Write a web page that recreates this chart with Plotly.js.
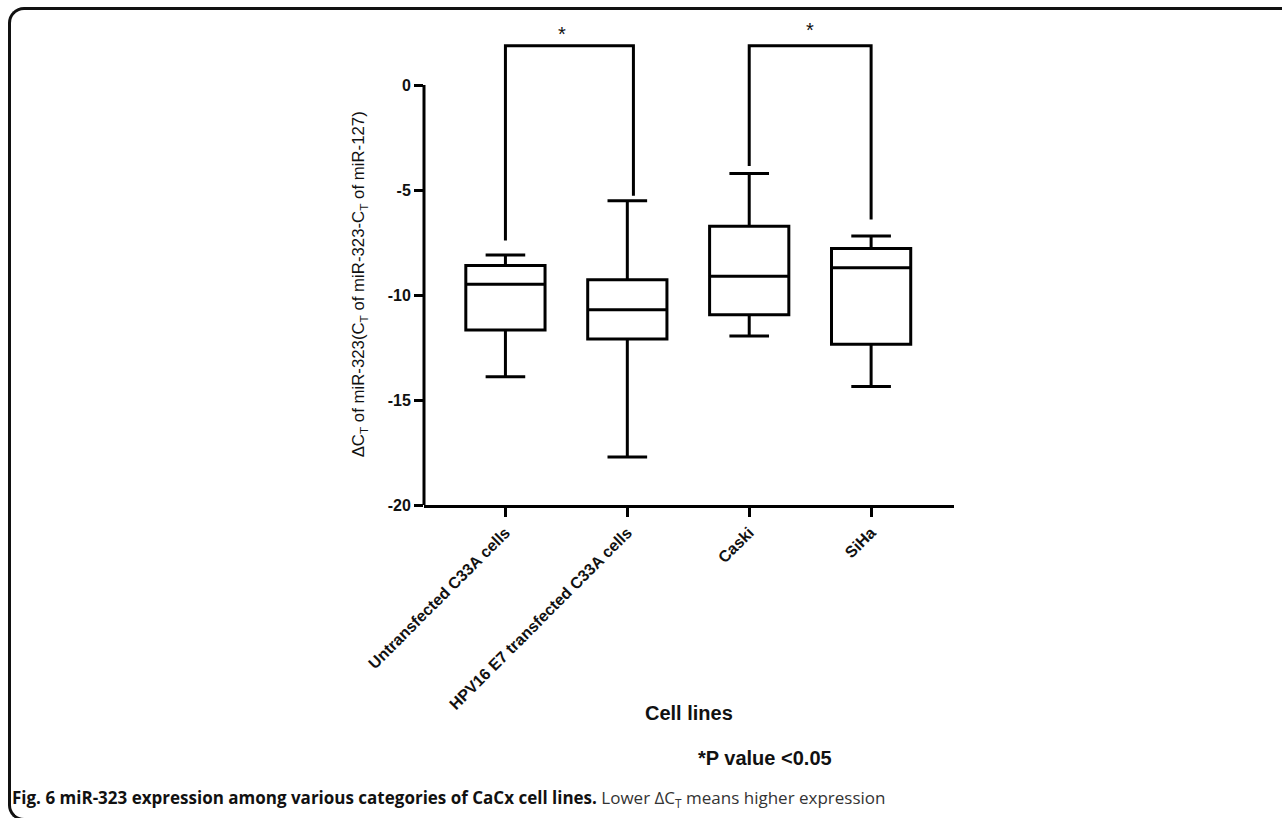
<!DOCTYPE html>
<html>
<head>
<meta charset="utf-8">
<script src="https://cdn.plot.ly/plotly-3.0.1.min.js"></script>
<style>
  html, body { margin: 0; padding: 0; background: #ffffff; overflow: hidden; }
  #chart { position: absolute; left: 0; top: 0; width: 1282px; height: 818px; }
  #frame { position: absolute; left: 8px; top: 7px; width: 1400px; height: 808px;
           border-left: 3px solid #111; border-top: 3px solid #111; border-bottom: 3px solid #111;
           border-top-left-radius: 16px; border-bottom-left-radius: 16px; pointer-events: none; }
</style>
</head>
<body>
<div id="chart"></div>
<div id="frame"></div>
<script>
// ---- data ----
var categories = ['Untransfected C33A cells', 'HPV16 E7 transfected C33A cells', 'Caski', 'SiHa'];
var positions = [0, 1, 2, 3];
var lowerWhisker = [-13.89, -17.71, -11.95, -14.36];
var q1Values = [-11.67, -12.10, -10.94, -12.35];
var medianValues = [-9.49, -10.70, -9.11, -8.70];
var q3Values = [-8.59, -9.27, -6.73, -7.79];
var upperWhisker = [-8.10, -5.51, -4.21, -7.19];
var yTickValues = [-20, -15, -10, -5, 0];
var yTickLabels = ['-20', '-15', '-10', '-5', '0'];
// significance brackets
var bracketLeftX = [0, 2];
var bracketRightX = [1.05, 3];
var bracketLeftBottom = [-7.41, -3.86];
var bracketRightBottom = [-5.27, -6.40];
var bracketTop = [1.87, 1.87];
var starX = [0.46, 2.50];
var starY = [2.42, 2.62];

var trace = {
  type: 'box',
  x: positions,
  q1: q1Values,
  median: medianValues,
  q3: q3Values,
  lowerfence: lowerWhisker,
  upperfence: upperWhisker,
  boxpoints: false,
  width: 0.65,
  whiskerwidth: 0.5,
  fillcolor: '#ffffff',
  line: { color: '#000000', width: 3 },
  hoverinfo: 'skip'
};

var shapes = [];
// y axis line from -20 to 0 only
shapes.push({ type: 'line', xref: 'paper', yref: 'y', x0: 0, x1: 0, y0: yTickValues[0], y1: yTickValues[yTickValues.length - 1],
  line: { color: '#000000', width: 3 } });
for (var i = 0; i < bracketLeftX.length; i++) {
  shapes.push({
    type: 'path', xref: 'x', yref: 'y',
    path: 'M ' + bracketLeftX[i] + ' ' + bracketLeftBottom[i] +
          ' L ' + bracketLeftX[i] + ' ' + bracketTop[i] +
          ' L ' + bracketRightX[i] + ' ' + bracketTop[i] +
          ' L ' + bracketRightX[i] + ' ' + bracketRightBottom[i],
    line: { color: '#000000', width: 3 }
  });
}

var annotations = [];
for (var j = 0; j < starX.length; j++) {
  annotations.push({ xref: 'x', yref: 'y', x: starX[j], y: starY[j], text: '*', showarrow: false,
    font: { family: 'Liberation Sans, Arial, sans-serif', size: 20, color: '#111' }, xanchor: 'center', yanchor: 'middle' });
}
annotations.push({
  xref: 'paper', yref: 'y', x: -0.121, y: -9.5, textangle: -90, showarrow: false,
  text: '\u0394C<sub>T</sub> of miR-323(C<sub>T</sub> of miR-323-C<sub>T</sub> of miR-127)',
  font: { family: 'Liberation Sans, Arial, sans-serif', size: 16.8, color: '#111' },
  xanchor: 'center', yanchor: 'middle'
});
annotations.push({
  xref: 'paper', yref: 'paper', x: 0.5, y: -0.431, showarrow: false, text: 'Cell lines',
  font: { family: 'Liberation Sans, Arial, sans-serif', size: 20, color: '#111', weight: 'bold' },
  xanchor: 'center', yanchor: 'middle'
});
annotations.push({
  xref: 'paper', yref: 'paper', x: 0.643, y: -0.523, showarrow: false, text: '*P value <0.05',
  font: { family: 'Liberation Sans, Arial, sans-serif', size: 20, color: '#111', weight: 'bold' },
  xanchor: 'center', yanchor: 'middle'
});
annotations.push({
  xref: 'paper', yref: 'paper', x: -0.7815, y: -0.607, showarrow: false, xanchor: 'left', yanchor: 'middle',
  text: '<b>Fig. 6 miR-323 expression among various categories of CaCx cell lines.</b> <span style="color:#333">Lower \u0394C<sub>T</sub> means higher expression</span>',
  font: { family: 'Liberation Sans Narrow, Open Sans, sans-serif', size: 17, color: '#111' }
});

var layout = {
  width: 1282, height: 818,
  margin: { l: 424, r: 328, t: 22, b: 313, pad: 0 },
  paper_bgcolor: 'rgba(0,0,0,0)',
  plot_bgcolor: 'rgba(0,0,0,0)',
  showlegend: false,
  xaxis: {
    type: 'linear', range: [-0.668, 3.68],
    tickvals: positions, ticktext: categories, tickangle: -45,
    ticks: 'outside', ticklen: 9, tickwidth: 3, tickcolor: '#000',
    showline: true, linewidth: 3, linecolor: '#000',
    showgrid: false, zeroline: false,
    tickfont: { family: 'Liberation Sans, Arial, sans-serif', size: 16, color: '#111', weight: 'bold' }
  },
  yaxis: {
    range: [-20, 3],
    tickvals: yTickValues, ticktext: yTickLabels,
    ticks: 'outside', ticklen: 9, tickwidth: 3, tickcolor: '#000',
    showline: false, showgrid: false, zeroline: false,
    tickfont: { family: 'Liberation Sans, Arial, sans-serif', size: 16, color: '#111', weight: 'bold' }
  },
  shapes: shapes,
  annotations: annotations
};

Plotly.newPlot('chart', [trace], layout, { staticPlot: true, displayModeBar: false });
</script>
</body>
</html>
